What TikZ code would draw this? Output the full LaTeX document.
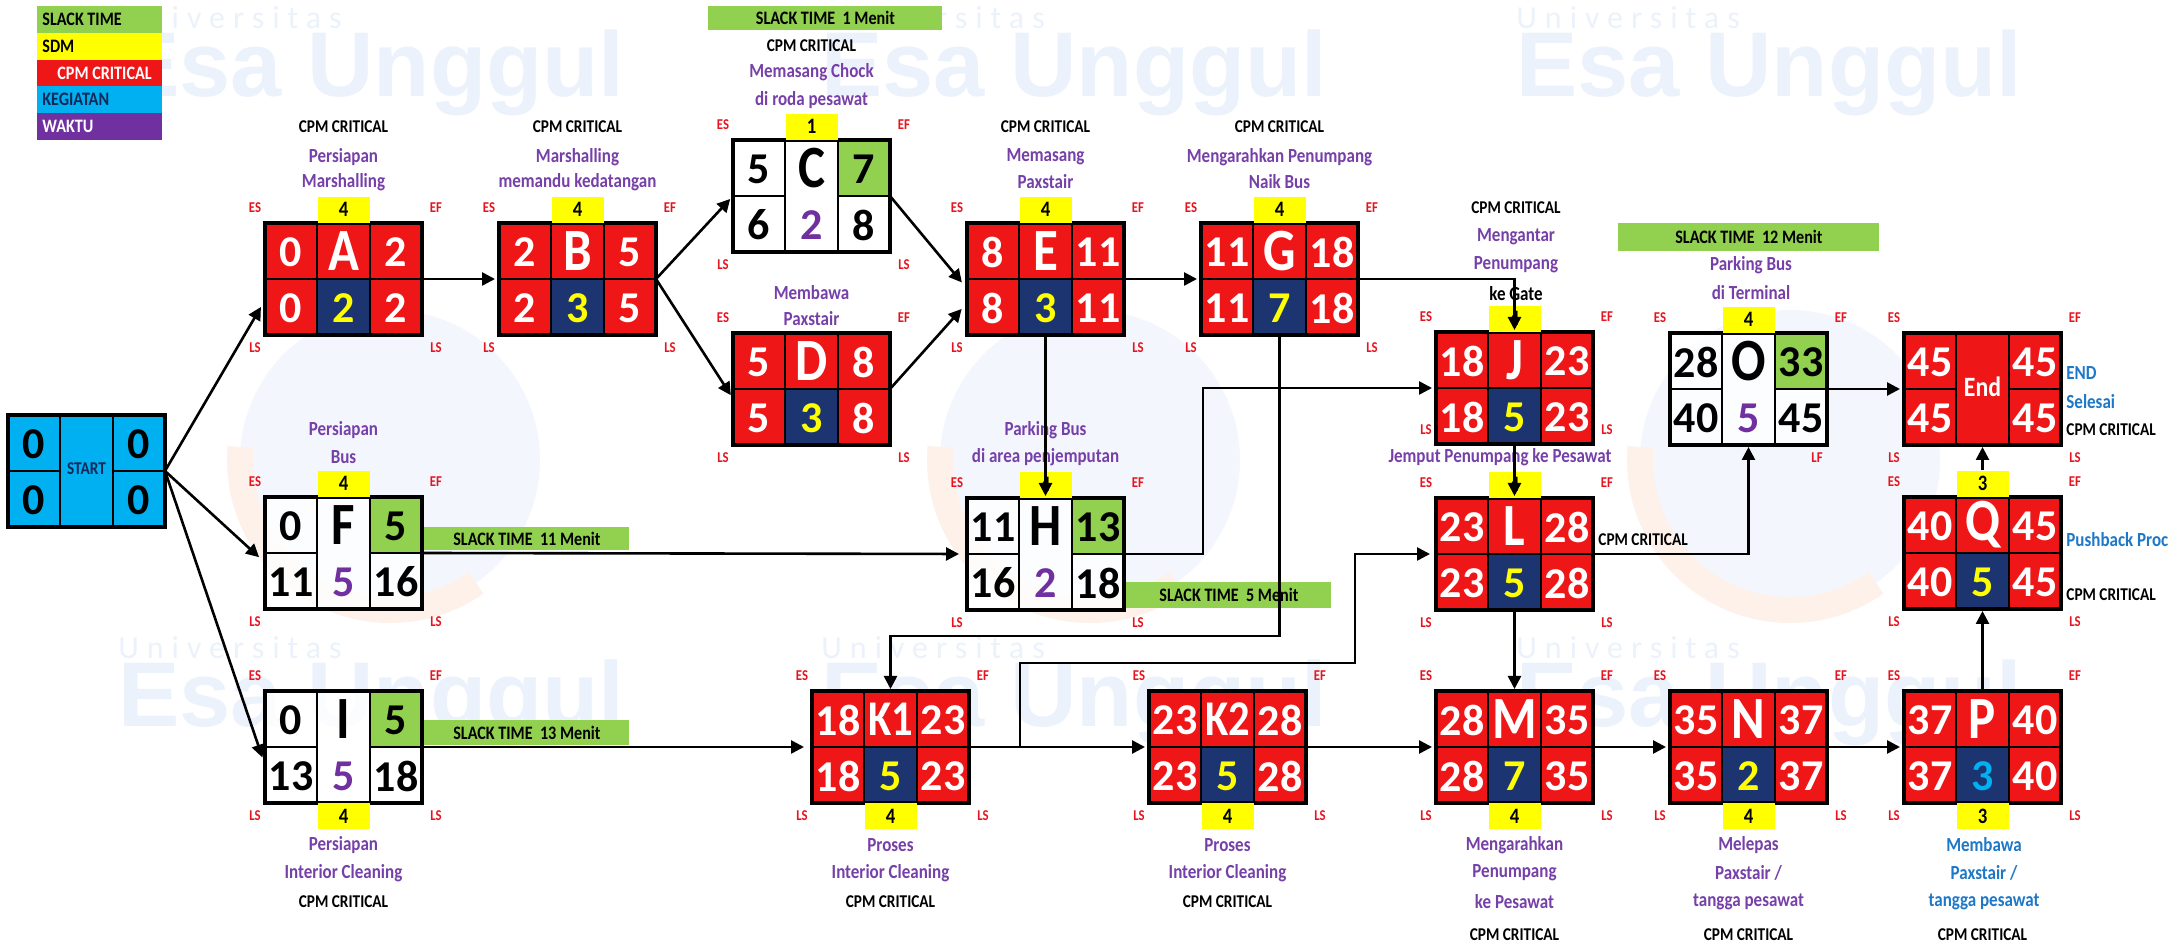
\documentclass[tikz,border=0pt]{standalone}
\usepackage{fontspec}
\setmainfont{Carlito}
\newfontfamily\cn{Carlito}[FakeStretch=0.85]
\newfontfamily\wmfont{Carlito}[LetterSpace=25]
\newfontfamily\wmbigfont{Liberation Sans}
\usetikzlibrary{arrows.meta,calc}
\definecolor{cred}{RGB}{238,22,22}
\definecolor{cnavy}{RGB}{28,52,112}
\definecolor{cyel}{RGB}{255,255,0}
\definecolor{cgreen}{RGB}{146,208,80}
\definecolor{ccyan}{RGB}{0,176,240}
\definecolor{cpurple}{RGB}{112,48,160}
\definecolor{tpurple}{RGB}{118,64,168}
\definecolor{lblred}{RGB}{230,20,30}
\definecolor{cblue}{RGB}{30,120,200}
\definecolor{wmblue}{RGB}{236,242,251}
\definecolor{wmcirc}{RGB}{243,247,253}
\definecolor{wmorange}{RGB}{253,241,234}
\definecolor{startnavy}{RGB}{20,40,90}
\tikzset{
 gridln/.style={draw=black, line width=1.2pt},
 boxframe/.style={draw=black, line width=1.6pt, minimum width=78.5pt, minimum height=56pt, inner sep=0pt, outer sep=0pt, anchor=north west},
 numw/.style={text=white, font=\bfseries\fontsize{22}{22}\selectfont, inner sep=0pt},
 numb/.style={numw, text=black},
 letw/.style={text=white, font=\cn\bfseries\fontsize{30}{30}\selectfont, inner sep=0pt},
 letb/.style={letw, text=black},
 durt/.style={font=\bfseries\fontsize{22}{22}\selectfont, inner sep=0pt},
 eslbl/.style={text=lblred, font=\cn\bfseries\fontsize{7.5}{7.5}\selectfont, inner sep=0pt},
 sdm/.style={fill=cyel, minimum width=26pt, minimum height=13pt, inner sep=0pt, font=\cn\bfseries\fontsize{11}{11}\selectfont},
 ptxt/.style={text=tpurple, font=\cn\bfseries\fontsize{10}{10}\selectfont, inner sep=0pt},
 ktxt/.style={text=black, font=\cn\bfseries\fontsize{9}{9}\selectfont, inner sep=0pt},
 btxt/.style={ptxt, text=cblue},
 slackbar/.style={fill=cgreen, inner sep=0pt, anchor=north west, font=\cn\bfseries\fontsize{9.5}{9.5}\selectfont},
 legt/.style={anchor=west, inner sep=0pt, font=\cn\bfseries\fontsize{9.5}{9.5}\selectfont},
 wmsmall/.style={text=wmblue, inner sep=0pt, anchor=base west, font=\wmfont\fontsize{16}{16}\selectfont},
 wmbig/.style={text=wmblue, inner sep=0pt, anchor=base west, font=\wmbigfont\bfseries\fontsize{46}{46}\selectfont},
 arr/.style={draw=black, line width=1.3pt, -{Triangle[length=6.5pt,width=6.5pt]}, shorten >=1pt},
}
% critical box: name, x, y, ES, letter, EF, duration, duration colour
\newcommand{\critbox}[8]{%
\begin{scope}[shift={(#2,#3)}]
\fill[cred] (0,0) rectangle (157,112);
\fill[cnavy] (52,56) rectangle (105,112);
\draw[gridln] (52,0) -- (52,112) (105,0) -- (105,112) (0,56) -- (157,56);
\node[boxframe] (#1) at (0,0) {};
\node[numw] (#1-es) at (26,29) {#4};
\node[letw] (#1-id) at (78.5,28) {#5};
\node[numw] (#1-ef) at (131,29) {#6};
\node[numw] (#1-ls) at (26,85) {#4};
\node[durt, text=#8] (#1-d) at (78.5,85) {#7};
\node[numw] (#1-lf) at (131,85) {#6};
\end{scope}}
% slack box: name, x, y, ES, letter, EF, LS, duration, LF
\newcommand{\slackbox}[9]{%
\begin{scope}[shift={(#2,#3)}]
\fill[white, fill opacity=0.8] (0,0) rectangle (157,112);
\fill[cgreen] (105,0) rectangle (157,56);
\draw[gridln] (52,0) -- (52,112) (105,0) -- (105,112) (0,56) -- (52,56) (105,56) -- (157,56);
\node[boxframe] (#1) at (0,0) {};
\node[numb] (#1-es) at (26,29) {#4};
\node[letb] (#1-id) at (78.5,28) {#5};
\node[numb] (#1-ef) at (131,29) {#6};
\node[numb] (#1-ls) at (26,85) {#7};
\node[durt, text=cpurple] (#1-d) at (78.5,85) {#8};
\node[numb] (#1-lf) at (131,85) {#9};
\end{scope}}
\newcommand{\lbls}[1]{%
\node[eslbl] (#1-tES) at ($(#1.north west)+(-10,-15)$) {ES};
\node[eslbl] (#1-tEF) at ($(#1.north east)+(14,-15)$) {EF};
\node[eslbl] (#1-tLS) at ($(#1.south west)+(-10,13)$) {LS};
\node[eslbl] (#1-tLF) at ($(#1.south east)+(14,13)$) {LS};}
\newcommand{\sdmtop}[2]{\node[sdm, anchor=south] (#1-sdm) at (#1.north) {#2};}
\newcommand{\sdmbot}[2]{\node[sdm, anchor=north] (#1-sdm) at (#1.south) {#2};}
\newcommand{\twolet}[1]{{\fontsize{25}{25}\selectfont #1}}
\begin{document}
\begin{tikzpicture}[x=0.5pt,y=-0.5pt]
\useasboundingbox (0,0) rectangle (2181,945);
\fill[white] (0,0) rectangle (2181,945);
% watermark
\foreach \cx in {390,1090,1790} {
 \fill[wmcirc] (\cx,460) circle (150);
 \draw[wmorange, line width=13pt] (\cx,460) ++(55:150) arc (55:185:150);
}
\foreach \wx/\wy [count=\k] in {118/0, 821/0, 1516/0, 118/630, 821/630, 1516/630} {
 \node[wmsmall] (wmu\k) at (\wx,\wy+29) {Universitas};
 \node[wmbig] (wme\k) at (\wx,\wy+97) {Esa Unggul};
}
% legend
\fill[cgreen] (37,6) rectangle (162,32.8);
\fill[cyel] (37,32.8) rectangle (162,59.6);
\fill[cred] (37,59.6) rectangle (162,86.4);
\fill[ccyan] (37,86.4) rectangle (162,113.2);
\fill[cpurple] (37,113.2) rectangle (162,140);
\node[legt] (lg1) at (42,19.4) {SLACK TIME};
\node[legt] (lg2) at (42,46.2) {SDM};
\node[legt, text=white] (lg3) at (57,73) {CPM CRITICAL};
\node[legt, text=startnavy] (lg4) at (42,99.8) {KEGIATAN};
\node[legt, text=white] (lg5) at (42,126.6) {WAKTU};
% START
\begin{scope}[shift={(8,415)}]
\fill[ccyan] (0,0) rectangle (157,112);
\draw[gridln] (52,0) -- (52,112) (105,0) -- (105,112) (0,56) -- (52,56) (105,56) -- (157,56);
\node[boxframe] (START) at (0,0) {};
\node[numb] (st-es) at (26,29) {0};
\node[numb] (st-ef) at (131,29) {0};
\node[numb] (st-ls) at (26,85) {0};
\node[numb] (st-lf) at (131,85) {0};
\node[text=startnavy, font=\cn\bfseries\fontsize{9}{9}\selectfont, inner sep=0pt] (st-t) at (78.5,54) {START};
\end{scope}
% End
\begin{scope}[shift={(1904,333)}]
\fill[cred] (0,0) rectangle (157,112);
\draw[gridln] (52,0) -- (52,112) (105,0) -- (105,112) (0,56) -- (52,56) (105,56) -- (157,56);
\node[boxframe] (End) at (0,0) {};
\node[numw] (End-es) at (26,29) {45};
\node[numw] (End-ef) at (131,29) {45};
\node[numw] (End-ls) at (26,85) {45};
\node[numw] (End-lf) at (131,85) {45};
\node[text=white, font=\cn\bfseries\fontsize{14}{14}\selectfont, inner sep=0pt] (End-t) at (78.5,54) {End};
\end{scope}
% boxes
\critbox{A}{265}{223}{0}{A}{2}{2}{cyel}
\critbox{B}{499}{223}{2}{B}{5}{3}{cyel}
\slackbox{C}{733}{140}{5}{C}{7}{6}{2}{8}
\critbox{D}{733}{333}{5}{D}{8}{3}{cyel}
\critbox{E}{967}{223}{8}{E}{11}{3}{cyel}
\critbox{G}{1201}{223}{11}{G}{18}{7}{cyel}
\slackbox{F}{265}{497}{0}{F}{5}{11}{5}{16}
\slackbox{H}{967}{498}{11}{H}{13}{16}{2}{18}
\slackbox{I}{265}{691}{0}{I}{5}{13}{5}{18}
\critbox{K1}{812}{691}{18}{\twolet{K1}}{23}{5}{cyel}
\critbox{K2}{1149}{691}{23}{\twolet{K2}}{28}{5}{cyel}
\critbox{M}{1436}{691}{28}{M}{35}{7}{cyel}
\critbox{N}{1670}{691}{35}{N}{37}{2}{cyel}
\critbox{P}{1904}{691}{37}{P}{40}{3}{ccyan}
\critbox{J}{1436}{332}{18}{J}{23}{5}{cyel}
\critbox{L}{1436}{498}{23}{L}{28}{5}{cyel}
\slackbox{O}{1670}{333}{28}{O}{33}{40}{5}{45}
\critbox{Q}{1904}{497}{40}{Q}{45}{5}{cyel}
% ES/EF/LS labels
\lbls{A}\lbls{B}\lbls{C}\lbls{D}\lbls{E}\lbls{G}\lbls{F}\lbls{H}\lbls{I}
\lbls{K1}\lbls{K2}\lbls{M}\lbls{N}\lbls{P}\lbls{L}\lbls{Q}\lbls{End}
\node[eslbl] (J-tES) at ($(J.north west)+(-10,-15)$) {ES};
\node[eslbl] (J-tEF) at ($(J.north east)+(14,-15)$) {EF};
\node[eslbl] (J-tLS) at ($(J.south west)+(-10,-14)$) {LS};
\node[eslbl] (J-tLF) at ($(J.south east)+(14,-14)$) {LS};
\node[eslbl] (O-tES) at ($(O.north west)+(-10,-15)$) {ES};
\node[eslbl] (O-tEF) at ($(O.north east)+(14,-15)$) {EF};
\node[eslbl] (O-tLF) at ($(O.south east)+(-10,13)$) {LF};
% SDM
\sdmtop{A}{4}\sdmtop{B}{4}\sdmtop{C}{1}\sdmtop{E}{4}\sdmtop{G}{4}
\sdmtop{F}{4}\sdmtop{H}{4}\sdmtop{J}{4}\sdmtop{O}{4}\sdmtop{L}{4}\sdmtop{Q}{3}
\sdmbot{I}{4}\sdmbot{K1}{4}\sdmbot{K2}{4}\sdmbot{M}{4}\sdmbot{N}{4}\sdmbot{P}{3}
% texts
\node[ktxt] (A-c) at (343.5,127) {CPM CRITICAL};
\node[ptxt] (A-1) at (343.5,157) {Persiapan};
\node[ptxt] (A-2) at (343.5,182) {Marshalling};
\node[ktxt] (B-c) at (577.5,127) {CPM CRITICAL};
\node[ptxt] (B-1) at (577.5,157) {Marshalling};
\node[ptxt] (B-2) at (577.5,182) {memandu kedatangan};
\node[ktxt] (C-c) at (811.5,46) {CPM CRITICAL};
\node[ptxt] (C-1) at (811.5,72) {Memasang Chock};
\node[ptxt] (C-2) at (811.5,100) {di roda pesawat};
\node[ptxt] (D-1) at (811.5,293) {Membawa};
\node[ptxt] (D-2) at (811.5,319) {Paxstair};
\node[ktxt] (E-c) at (1045.5,127) {CPM CRITICAL};
\node[ptxt] (E-1) at (1045.5,157) {Memasang};
\node[ptxt] (E-2) at (1045.5,182) {Paxstair};
\node[ktxt] (G-c) at (1279.5,127) {CPM CRITICAL};
\node[ptxt] (G-1) at (1279.5,157) {Mengarahkan Penumpang};
\node[ptxt] (G-2) at (1279.5,182) {Naik Bus};
\node[ptxt] (F-1) at (343.5,430) {Persiapan};
\node[ptxt] (F-2) at (343.5,457) {Bus};
\node[ptxt] (H-1) at (1045.5,430) {Parking Bus};
\node[ptxt] (H-2) at (1045.5,457) {di area penjemputan};
\node[ktxt] (J-c) at (1516,208) {CPM CRITICAL};
\node[ptxt] (J-1) at (1516,237) {Mengantar};
\node[ptxt] (J-2) at (1516,265) {Penumpang};
\node[ptxt, text=black] (J-3) at (1516,294) {ke Gate};
\node[ptxt] (L-1) at (1500,457) {Jemput Penumpang ke Pesawat};
\node[ktxt, anchor=west] (L-c) at (1598,540) {CPM CRITICAL};
\node[ptxt] (O-1) at (1751,265) {Parking Bus};
\node[ptxt] (O-2) at (1751,293) {di Terminal};
\node[btxt, anchor=west] (End-1) at (2066,373) {END};
\node[btxt, anchor=west] (End-2) at (2066,402) {Selesai};
\node[ktxt, anchor=west] (End-c) at (2066,430) {CPM CRITICAL};
\node[btxt, anchor=west] (Q-1) at (2066,540) {Pushback Proc};
\node[ktxt, anchor=west] (Q-c) at (2066,595) {CPM CRITICAL};
\node[ptxt] (I-1) at (343.5,845) {Persiapan};
\node[ptxt] (I-2) at (343.5,873) {Interior Cleaning};
\node[ktxt] (I-c) at (343.5,902) {CPM CRITICAL};
\node[ptxt] (K1-1) at (890.5,845) {Proses};
\node[ptxt] (K1-2) at (890.5,873) {Interior Cleaning};
\node[ktxt] (K1-c) at (890.5,902) {CPM CRITICAL};
\node[ptxt] (K2-1) at (1227.5,845) {Proses};
\node[ptxt] (K2-2) at (1227.5,873) {Interior Cleaning};
\node[ktxt] (K2-c) at (1227.5,902) {CPM CRITICAL};
\node[ptxt] (M-1) at (1514.5,845) {Mengarahkan};
\node[ptxt] (M-2) at (1514.5,873) {Penumpang};
\node[ptxt] (M-3) at (1514.5,902) {ke Pesawat};
\node[ktxt] (M-c) at (1514.5,935) {CPM CRITICAL};
\node[ptxt] (N-1) at (1748.5,845) {Melepas};
\node[ptxt] (N-2) at (1748.5,873) {Paxstair /};
\node[ptxt] (N-3) at (1748.5,902) {tangga pesawat};
\node[ktxt] (N-c) at (1748.5,935) {CPM CRITICAL};
\node[btxt] (P-1) at (1984,845) {Membawa};
\node[btxt] (P-2) at (1984,873) {Paxstair /};
\node[btxt] (P-3) at (1984,902) {tangga pesawat};
\node[ktxt] (P-c) at (1982.5,935) {CPM CRITICAL};
% slack bars
\node[slackbar, minimum width=117pt, minimum height=12pt] (s1) at (708,6) {SLACK TIME\ \ 1 Menit};
\node[slackbar, minimum width=102.5pt, minimum height=11.5pt] (s11) at (424,527) {SLACK TIME\ \ 11 Menit};
\node[slackbar, minimum width=102.5pt, minimum height=12.5pt] (s13) at (424,720) {SLACK TIME\ \ 13 Menit};
\node[slackbar, minimum width=102.5pt, minimum height=13pt] (s5) at (1126,582) {SLACK TIME\ \ 5 Menit};
\node[slackbar, minimum width=130.5pt, minimum height=14pt] (s12) at (1618,223) {SLACK TIME\ \ 12 Menit};
% turning points
\coordinate (hj) at (1203,470);
\coordinate (gk) at (1100,636);
\coordinate (kl1) at (1020,663);
\coordinate (kl2) at (1355,600);
% connectors
\draw[arr, shorten >=4pt] (START.east) -- (A.195);
\draw[arr, shorten >=4pt] (START.east) -- (F.187);
\draw[arr, shorten >=4pt] (START.east) -- (I.193);
\draw[arr, shorten >=2pt] (A.east) -- (B.west);
\draw[arr, shorten >=2pt] (B.east) -- (C.west);
\draw[arr, shorten >=2pt] (B.east) -- (D.187);
\draw[arr, shorten >=4pt] (C.east) -- (E.187);
\draw[arr, shorten >=4pt] (D.east) -- (E.197);
\draw[arr, shorten >=2pt] (E.east) -- (G.west);
\draw[arr] (E.south) -- (H.north);
\draw[arr, shorten >=4pt] (F.east) -- (H.west);
\draw[arr] (G.east) -| (J.north);
\draw[arr, shorten >=2pt] (H.east) -| (hj) |- (J.west);
\draw[arr] (G.south) |- (gk) -| (K1.north);
\draw[arr, shorten >=4pt] (I.east) -- (K1.west);
\draw[arr, shorten >=2pt] (K1.east) -- (K2.west);
\draw[arr, shorten >=3pt] (K1.east) -| (kl1) -| (kl2) |- (L.west);
\draw[arr] (J.south) -- (L.north);
\draw[arr] (L.south) -- (M.north);
\draw[arr] (L.east) -| (O.south);
\draw[arr, shorten >=2pt] (K2.east) -- (M.west);
\draw[arr, shorten >=2pt] (M.east) -- (N.west);
\draw[arr, shorten >=2pt] (N.east) -- (P.west);
\draw[arr] (P.north) -- (Q.south);
\draw[arr] (Q-sdm.north) -- (End.south);
\draw[arr, shorten >=2pt] (O.east) -- (End.west);
\end{tikzpicture}
\end{document}
